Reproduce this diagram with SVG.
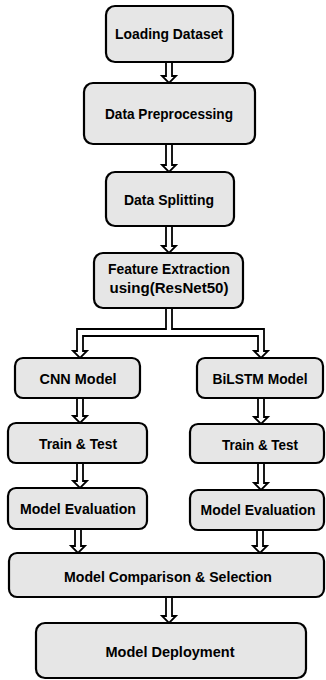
<svg xmlns="http://www.w3.org/2000/svg" width="326" height="680" viewBox="0 0 326 680">
<style>
.box{fill:#e6e6e6;stroke:#000;stroke-width:2.2}
.t{font-family:"Liberation Sans",Arial,sans-serif;font-weight:bold;font-size:15.5px;fill:#000;text-anchor:middle}
.s{font-size:14.5px}
.arr{fill:#fff;stroke:#000;stroke-width:1.8;stroke-linejoin:miter}
</style>
<rect width="326" height="680" fill="#fff"/>
<g id="connectors">
<path class="arr" d="M166 62 V76 H162 L169 83 L176 76 H172 V62"/>
<path class="arr" d="M166 144 V165 H162 L169 172 L176 165 H172 V144"/>
<path class="arr" d="M166 226 V246 H162 L169 253 L176 246 H172 V226"/>
<path class="arr" d="M166 308 V329 H77 V351 H73 L80 358 L87 351 H83 V336 H258 V351 H254 L261 358 L268 351 H264 V329 H172 V308"/>
<path class="arr" d="M77 398 V416 H73 L80 423 L87 416 H83 V398"/>
<path class="arr" d="M77 463 V481 H73 L80 488 L87 481 H83 V463"/>
<path class="arr" d="M258 398 V417 H254 L261 424 L268 417 H264 V398"/>
<path class="arr" d="M258 463 V483 H254 L261 490 L268 483 H264 V463"/>
<path class="arr" d="M75 529 V546 H71 L78 553 L85 546 H81 V529"/>
<path class="arr" d="M257 530 V546 H253 L260 553 L267 546 H263 V530"/>
<path class="arr" d="M166 597 V616 H162 L169 623 L176 616 H172 V597"/>
</g>
<g id="loading"><rect class="box" x="106" y="6" width="127" height="56" rx="9"/><text class="t" x="169" y="39" textLength="108" lengthAdjust="spacingAndGlyphs">Loading Dataset</text></g>
<g id="preprocessing"><rect class="box" x="84" y="83" width="171" height="61" rx="9"/><text class="t" x="169" y="119" textLength="128" lengthAdjust="spacingAndGlyphs">Data Preprocessing</text></g>
<g id="splitting"><rect class="box" x="106" y="172" width="128" height="54" rx="9"/><text class="t" x="169" y="205" textLength="90" lengthAdjust="spacingAndGlyphs">Data Splitting</text></g>
<g id="feature"><rect class="box" x="94" y="253" width="149" height="55" rx="9"/><text class="t" x="169" y="274" textLength="122" lengthAdjust="spacingAndGlyphs">Feature Extraction</text><text class="t" x="169" y="293" textLength="119" lengthAdjust="spacingAndGlyphs">using(ResNet50)</text></g>
<g id="cnn"><rect class="box" x="15" y="358" width="125" height="40" rx="8"/><text class="t" x="78" y="384" textLength="77" lengthAdjust="spacingAndGlyphs">CNN Model</text></g>
<g id="train-left"><rect class="box" x="8" y="423" width="139" height="40" rx="8"/><text class="t" x="78" y="449" textLength="78" lengthAdjust="spacingAndGlyphs">Train &amp; Test</text></g>
<g id="eval-left"><rect class="box" x="8" y="488" width="139" height="41" rx="8"/><text class="t" x="78" y="514" textLength="116" lengthAdjust="spacingAndGlyphs">Model Evaluation</text></g>
<g id="bilstm"><rect class="box" x="197" y="358" width="126" height="40" rx="8"/><text class="t" x="260" y="384" textLength="95" lengthAdjust="spacingAndGlyphs">BiLSTM Model</text></g>
<g id="train-right"><rect class="box" x="190" y="424" width="134" height="39" rx="8"/><text class="t" x="260" y="450" textLength="76" lengthAdjust="spacingAndGlyphs">Train &amp; Test</text></g>
<g id="eval-right"><rect class="box" x="190" y="490" width="134" height="40" rx="8"/><text class="t s" x="258" y="515" textLength="115" lengthAdjust="spacingAndGlyphs">Model Evaluation</text></g>
<g id="comparison"><rect class="box" x="9" y="553" width="315" height="44" rx="8"/><text class="t" x="168" y="582" textLength="208" lengthAdjust="spacingAndGlyphs">Model Comparison &amp; Selection</text></g>
<g id="deployment"><rect class="box" x="36" y="623" width="270" height="55" rx="9"/><text class="t" x="170" y="657" textLength="129" lengthAdjust="spacingAndGlyphs">Model Deployment</text></g>
</svg>
